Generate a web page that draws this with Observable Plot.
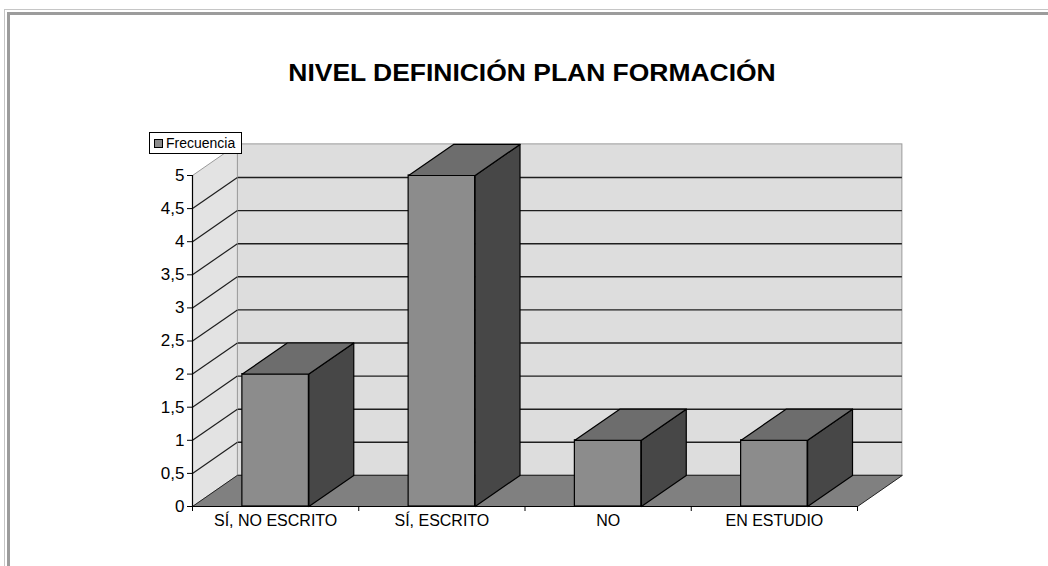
<!DOCTYPE html>
<html>
<head>
<meta charset="utf-8">
<script src="https://cdn.jsdelivr.net/npm/d3@7"></script>
<script src="https://cdn.jsdelivr.net/npm/@observablehq/plot@0.6"></script>
<style>
  html, body { margin: 0; padding: 0; background: #fff; }
  body { font-family: "Liberation Sans", Arial, sans-serif; }
  #wrap { position: relative; width: 1048px; height: 566px; overflow: hidden; }
  .frame-outer { position: absolute; left: 4px; top: 9px; width: 1100px; height: 620px;
                 border-left: 1px solid #c6c6c6; border-top: 1px solid #c6c6c6; }
  .frame-inner { position: absolute; left: 7px; top: 12px; width: 1100px; height: 620px;
                 border-left: 3px solid #9c9c9c; border-top: 3px solid #9c9c9c; }
  #header { position: relative; height: 120px; }
  #title { position: absolute; left: 532px; top: 62px; white-space: nowrap;
           font-size: 23px; line-height: 23px; font-weight: bold; color: #000;
           transform: translateX(-50%) scaleX(1.15); }
  #legend { position: absolute; left: 149px; top: 132px; width: 93px; height: 22px;
            box-sizing: border-box; border: 1px solid #000; background: #fff;
            font-size: 14px; line-height: 20px; white-space: nowrap; }
  #legend .sw { display: inline-block; width: 7px; height: 7px; background: #8c8c8c;
                border: 1px solid #000; margin: 0 3px 0 4px; vertical-align: 0px; }
  #chart svg { display: block; }
</style>
</head>
<body>
<div id="wrap">
  <div class="frame-outer"></div>
  <div class="frame-inner"></div>
  <div id="header"><div id="title"></div></div>
  <div id="chart"></div>
  <div id="legend"></div>
</div>
<script>
// Chart content
const title = "NIVEL DEFINICIÓN PLAN FORMACIÓN";
const seriesName = "Frecuencia";
const categories = ["SÍ, NO ESCRITO", "SÍ, ESCRITO", "NO", "EN ESTUDIO"];
const frecuencia = [2, 5, 1, 1];
const yTicks = [0, 0.5, 1, 1.5, 2, 2.5, 3, 3.5, 4, 4.5, 5];

// 3D look: depth of the box expressed in axis units
const DX = 0.27;      // in category widths
const DY = 0.47;      // in value units
const BAR_HALF = 0.2; // half of the bar width, in category widths

const n = categories.length;
const yMax = yTicks[yTicks.length - 1];
const inner = yTicks.filter(t => t > 0 && t < yMax);

// closed polygon helper: repeats the first vertex so the outline closes
const poly = (id, pts) => [...pts, pts[0]].map(([x, y]) => ({id, x, y}));

const bars = categories.map((c, i) => ({
  c, v: frecuencia[i], x1: i + 0.5 - BAR_HALF, x2: i + 0.5 + BAR_HALF
}));

const sideWall = poly("side", [[0, 0], [0, yMax], [DX, yMax + DY], [DX, DY]]);
const floor = poly("floor", [[0, 0], [n, 0], [n + DX, DY], [DX, DY]]);
const barSides = bars.flatMap(b => poly(b.c, [[b.x2, 0], [b.x2, b.v], [b.x2 + DX, b.v + DY], [b.x2 + DX, DY]]));
const barTops = bars.flatMap(b => poly(b.c, [[b.x1, b.v], [b.x2, b.v], [b.x2 + DX, b.v + DY], [b.x1 + DX, b.v + DY]]));

document.getElementById("title").textContent = title;
document.getElementById("legend").innerHTML = `<span class="sw"></span>${seriesName}`;

const chart = Plot.plot({
  width: 1048,
  height: 446,
  marginLeft: 192,
  marginRight: 191,
  marginTop: 55,
  marginBottom: 60,
  x: {domain: [0, n]},
  y: {domain: [0, yMax]},
  style: {fontFamily: '"Liberation Sans", Arial, sans-serif', fontSize: "16px", color: "#000", background: "transparent", overflow: "visible"},
  marks: [
    // back wall and its gridlines
    Plot.rect([0], {x1: () => DX, x2: () => n + DX, y1: () => DY, y2: () => yMax + DY, fill: "#dddddd", stroke: "#9a9a9a", strokeWidth: 1}),
    Plot.ruleY(inner, {y: d => d + DY, x1: () => DX, x2: () => n + DX, stroke: "#1e1e1e", strokeWidth: 1.4}),
    // side wall with its diagonal gridlines
    Plot.line(sideWall, {x: "x", y: "y", z: "id", fill: "#e3e3e3", stroke: "#9a9a9a", strokeWidth: 1, curve: "linear"}),
    Plot.link(inner, {x1: () => 0, y1: d => d, x2: () => DX, y2: d => d + DY, stroke: "#1e1e1e", strokeWidth: 1.2}),
    // floor
    Plot.line(floor, {x: "x", y: "y", z: "id", fill: "#808080", stroke: "#222", strokeWidth: 1, curve: "linear"}),
    // columns: front, side and top faces
    Plot.rect(bars, {x1: "x1", x2: "x2", y1: () => 0, y2: "v", fill: "#8c8c8c", stroke: "#000", strokeWidth: 1.2}),
    Plot.line(barSides, {x: "x", y: "y", z: "id", fill: "#474747", stroke: "#000", strokeWidth: 1.2, curve: "linear"}),
    Plot.line(barTops, {x: "x", y: "y", z: "id", fill: "#6d6d6d", stroke: "#000", strokeWidth: 1.2, curve: "linear"}),
    // axes
    Plot.ruleX([0], {y1: () => 0, y2: () => yMax, stroke: "#000", strokeWidth: 1.2}),
    Plot.ruleY([0], {x1: () => 0, x2: () => n, stroke: "#000", strokeWidth: 1.2}),
    Plot.axisY(yTicks, {tickFormat: d => String(d).replace(".", ","), tickSize: 5, tickPadding: 3, fontSize: 17, stroke: "#000"}),
    Plot.axisX(d3.range(n + 1), {tickFormat: () => "", tickSize: 5, stroke: "#000"}),
    Plot.axisX(categories.map((c, i) => i + 0.5), {tickFormat: d => categories[Math.floor(d)], tickSize: 0, tickPadding: 8, fontSize: 16})
  ]
});
document.getElementById("chart").appendChild(chart);
</script>
</body>
</html>
